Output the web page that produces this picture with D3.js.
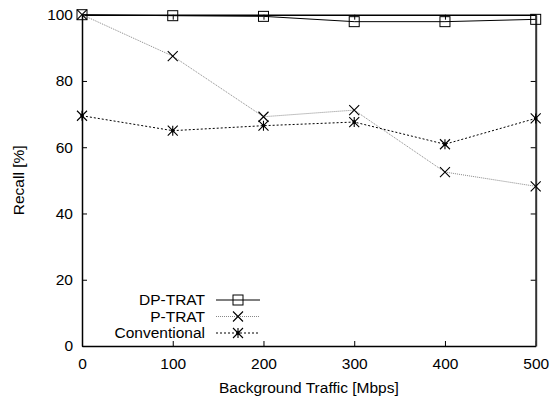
<!DOCTYPE html>
<html>
<head>
<meta charset="utf-8">
<script src="https://cdn.jsdelivr.net/npm/d3@7"></script>
<style>
  body { margin: 0; background: #fff; }
  text { font-family: "Liberation Sans", Arial, Helvetica, sans-serif; }
</style>
</head>
<body>
<svg id="chart" width="554" height="400"></svg>
<script>
// Background traffic levels (Mbps)
const traffic = [0, 100, 200, 300, 400, 500];

// Recall (%) per method
const dpTrat = [100, 99.7, 99.5, 97.9, 97.9, 98.6];
const pTrat = [100, 87.5, 69.2, 71.2, 52.5, 48.2];
const conventional = [69.5, 65.0, 66.5, 67.6, 60.9, 68.7];

const xTicks = [0, 100, 200, 300, 400, 500];
const yTicks = [0, 20, 40, 60, 80, 100];

const seriesNames = ["DP-TRAT", "P-TRAT", "Conventional"];

const series = [
  { name: seriesNames[0], values: dpTrat, color: "#000", width: 1, dash: null, marker: "square" },
  { name: seriesNames[1], values: pTrat, color: "#888", width: 1, dash: "1,1", marker: "cross" },
  { name: seriesNames[2], values: conventional, color: "#000", width: 1, dash: "2,2", marker: "star" }
];

const FS = 15.5;
const svg = d3.select("#chart");
const margin = { left: 82, right: 18.3, top: 14.7, bottom: 54 };
const W = 554, H = 400;

const x = d3.scaleLinear().domain([0, 500]).range([margin.left, W - margin.right]);
const y = d3.scaleLinear().domain([0, 100]).range([H - margin.bottom, margin.top]);

const g = svg.append("g");

// Axes with inward ticks, mirrored on top/right
const tickLen = 5;
const axBottom = g.append("g").attr("transform", `translate(0,${y(0)})`)
  .call(d3.axisBottom(x).tickValues(xTicks).tickSizeInner(-tickLen).tickSizeOuter(0).tickPadding(12));
const axLeft = g.append("g").attr("transform", `translate(${x(0)},0)`)
  .call(d3.axisLeft(y).tickValues(yTicks).tickSizeInner(-tickLen).tickSizeOuter(0).tickPadding(9));
const axTop = g.append("g").attr("transform", `translate(0,${y(100)})`)
  .call(d3.axisTop(x).tickValues(xTicks).tickSizeInner(-tickLen).tickSizeOuter(0).tickFormat(""));
const axRight = g.append("g").attr("transform", `translate(${x(500)},0)`)
  .call(d3.axisRight(y).tickValues(yTicks).tickSizeInner(-tickLen).tickSizeOuter(0).tickFormat(""));

[axBottom, axLeft, axTop, axRight].forEach(a => {
  a.select(".domain").attr("stroke", "#000").attr("stroke-width", 1.5);
  a.selectAll(".tick line").attr("stroke", "#000").attr("stroke-width", 1);
  a.selectAll(".tick text").attr("font-size", FS).attr("fill", "#000")
    .style("font-family", "'Liberation Sans', Arial, sans-serif");
});
axRight.select(".domain").attr("stroke", "#333").attr("stroke-width", 2);

// Axis titles
svg.append("text")
  .attr("x", (x(0) + x(500)) / 2).attr("y", 393)
  .attr("text-anchor", "middle").attr("font-size", FS).text("Background Traffic [Mbps]");
svg.append("text")
  .attr("transform", `translate(24,${(y(0) + y(100)) / 2}) rotate(-90)`)
  .attr("text-anchor", "middle").attr("font-size", FS).text("Recall [%]");

// Marker drawing
function drawMarker(sel, type, cx, cy) {
  const s = 5;
  if (type === "square") {
    sel.append("rect").attr("x", cx - s).attr("y", cy - s).attr("width", 2 * s).attr("height", 2 * s)
      .attr("fill", "none").attr("stroke", "#000").attr("stroke-width", 1);
  } else if (type === "cross") {
    sel.append("path").attr("d", `M${cx - s},${cy - s}L${cx + s},${cy + s}M${cx - s},${cy + s}L${cx + s},${cy - s}`)
      .attr("stroke", "#000").attr("stroke-width", 1.1).attr("fill", "none");
  } else if (type === "star") {
    sel.append("path").attr("d", `M${cx - s},${cy - s}L${cx + s},${cy + s}M${cx - s},${cy + s}L${cx + s},${cy - s}M${cx},${cy - s}L${cx},${cy + s}`)
      .attr("stroke", "#000").attr("stroke-width", 1.1).attr("fill", "none");
    sel.append("circle").attr("cx", cx).attr("cy", cy).attr("r", 1.8).attr("fill", "#000");
  }
}

const line = d3.line().x((d, i) => x(traffic[i])).y(d => y(d));

series.forEach(s => {
  const sg = g.append("g");
  sg.append("path").datum(s.values).attr("d", line)
    .attr("fill", "none").attr("stroke", s.color).attr("stroke-width", s.width)
    .attr("stroke-dasharray", s.dash);
  s.values.forEach((v, i) => drawMarker(sg, s.marker, x(traffic[i]), y(v)));
});

// Legend
const legY = [300, 316.5, 333];
series.forEach((s, i) => {
  const lg = svg.append("g");
  lg.append("text").attr("x", 205).attr("y", legY[i]).attr("dy", "0.35em")
    .attr("text-anchor", "end").attr("font-size", FS).text(s.name);
  lg.append("line").attr("x1", 216).attr("x2", 260).attr("y1", legY[i]).attr("y2", legY[i])
    .attr("stroke", s.color).attr("stroke-width", s.width).attr("stroke-dasharray", s.dash);
  drawMarker(lg, s.marker, 238, legY[i]);
});
</script>
</body>
</html>
